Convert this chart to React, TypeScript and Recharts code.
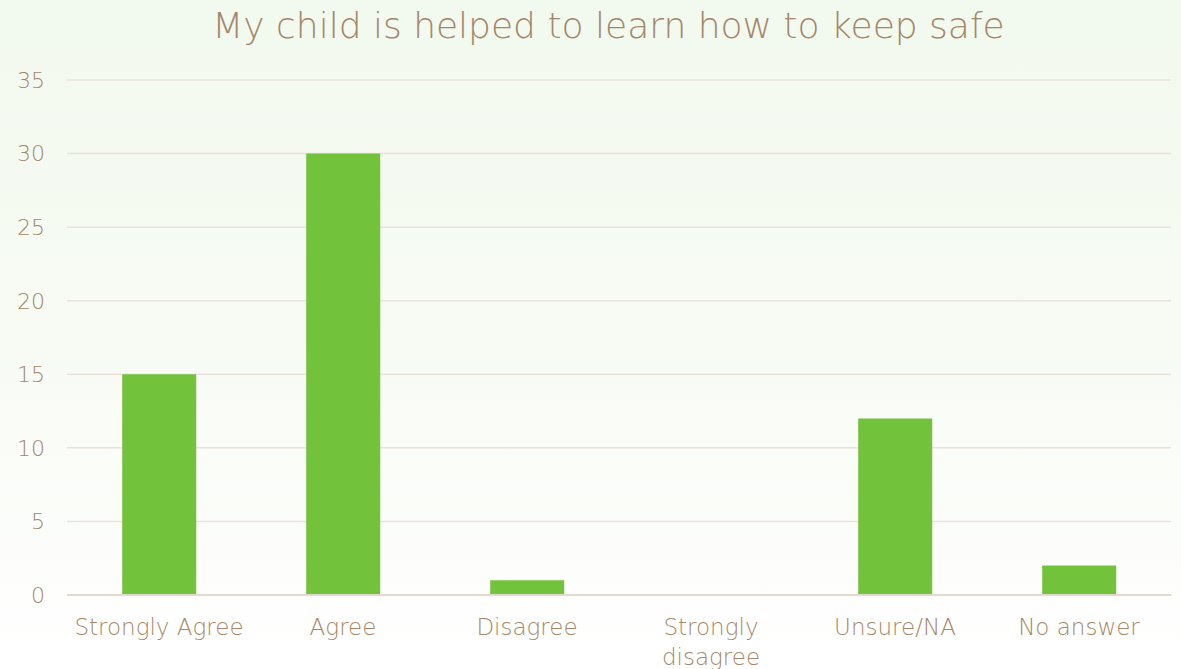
import { BarChart, Bar, XAxis, YAxis, CartesianGrid } from "recharts";

const categories = ["Strongly Agree", "Agree", "Disagree", "Strongly disagree", "Unsure/NA", "No answer"];
const responses = [15, 30, 1, 0, 12, 2];
const yTicks = [0, 5, 10, 15, 20, 25, 30, 35];

const data = categories.map((name, i) => ({ name, value: responses[i] }));

const textColor = "#A4876A";
const font = "'DejaVu Sans', Lato, sans-serif";

// labels longer than the band wrap onto two lines, like the original
function CategoryTick(props: any) {
  const { x, y, payload } = props;
  const label: string = payload.value;
  const lines = label.length > 15 ? label.split(" ") : [label];
  return (
    <text
      x={x}
      y={y}
      textAnchor="middle"
      fill={textColor}
      fontSize={23}
      fontFamily={font}
      fontWeight={200}
    >
      {lines.map((line, i) => (
        <tspan key={i} x={x} dy={i === 0 ? 18 : 30}>
          {line}
        </tspan>
      ))}
    </text>
  );
}

export default function App() {
  return (
    <div
      style={{
        position: "fixed",
        top: 0,
        left: 0,
        width: 1181,
        height: 669,
        background: "linear-gradient(to bottom, #F2F9EE 0%, #F7FBF4 50%, #FFFFFF 100%)",
        fontFamily: font,
      }}
    >
      <div
        style={{
          position: "absolute",
          top: 2,
          left: 18,
          width: 1181,
          textAlign: "center",
          fontSize: 36,
          fontWeight: 200,
          color: textColor,
          lineHeight: "48px",
        }}
      >
        My child is helped to learn how to keep safe
      </div>
      <BarChart
        width={1181}
        height={669}
        data={data}
        margin={{ top: 80, right: 10, left: 0, bottom: 0 }}
        barCategoryGap="30%"
      >
        <CartesianGrid vertical={false} stroke="#EAE2DA" strokeWidth={1.5} />
        <XAxis
          dataKey="name"
          axisLine={{ stroke: "#E2DAD0", strokeWidth: 2 }}
          tickLine={false}
          tickSize={0}
          tickMargin={22}
          tick={<CategoryTick />}
          interval={0}
          height={74}
        />
        <YAxis
          width={67}
          domain={[0, 35]}
          ticks={yTicks}
          axisLine={false}
          tickLine={false}
          tickSize={0}
          tickMargin={22}
          tick={{ fill: textColor, fontSize: 22, fontFamily: font, fontWeight: 200 }}
        />
        <Bar dataKey="value" fill="#72C23B" isAnimationActive={false} />
      </BarChart>
    </div>
  );
}
